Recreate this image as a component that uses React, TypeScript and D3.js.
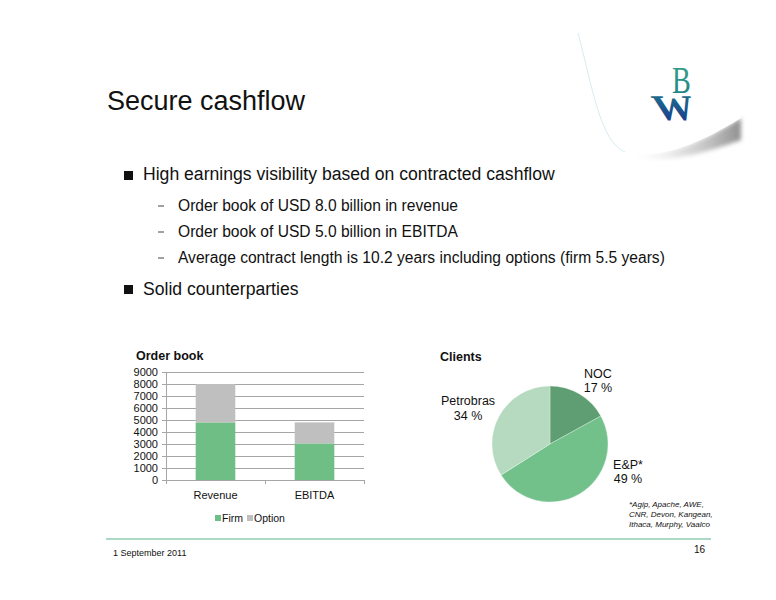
import React from "react";
import * as d3 from "d3";

// ---------- data ----------
const categories = ["Revenue", "EBITDA"];
const firmValues = [4800, 3050];
const optionValues = [3200, 1750];
const seriesNames = ["Firm", "Option"];
const yTickValues = [0, 1000, 2000, 3000, 4000, 5000, 6000, 7000, 8000, 9000];

const clientNames = ["NOC", "E&P*", "Petrobras"];
const clientShares = [17, 49, 34];

const titleText = "Secure cashflow";
const bulletMain = ["High earnings visibility based on contracted cashflow", "Solid counterparties"];
const bulletSub = [
  "Order book of USD 8.0 billion in revenue",
  "Order book of USD 5.0 billion in EBITDA",
  "Average contract length is 10.2 years including options (firm 5.5 years)",
];
const footnoteLines = ["*Agip, Apache, AWE,", "CNR, Devon, Kangean,", "Ithaca, Murphy, Vaalco"];
const footerDate = "1 September  2011";
const pageNumber = "16";

// ---------- styles ----------
const FONT = "'Liberation Sans', Arial, Helvetica, sans-serif";
const GREEN = "#6fbe85";
const GREY = "#bfbfbf";
const PIE_COLORS = ["#5f9e72", "#72c08a", "#b6dabf"];
// label placement (degrees clockwise from top, radius) for each slice
const PIE_LABEL_POLAR = [
  [38.9, 76.4],
  [112.3, 84.3],
  [291.3, 88],
];

export default function App() {
  // Bar chart scales
  const x = d3
    .scaleBand<string>()
    .domain(categories)
    .range([166, 364])
    .paddingInner(0.6)
    .paddingOuter(0.3);
  const y = d3.scaleLinear().domain([0, 9000]).range([480, 372]);

  const stacked = categories.map((c, i) => ({ cat: c, firm: firmValues[i], option: optionValues[i] }));
  const stack = d3.stack<any>().keys(["firm", "option"])(stacked);
  const seriesColors = [GREEN, GREY];

  // pie
  const cx = 550;
  const cy = 444;
  const r = 58;
  const pie = d3
    .pie<number>()
    .sort(null)
    .startAngle(0)
    .endAngle(Math.PI * 2)(clientShares);
  const arc = d3.arc<d3.PieArcDatum<number>>().innerRadius(0).outerRadius(r);

  const step = x.step();
  const boundaries = [166, 166 + step * 1, 364];

  return (
    <svg
      width={776}
      height={600}
      style={{ position: "absolute", left: 0, top: 0, background: "#fff" }}
      fontFamily={FONT}
    >
      <defs>
        <linearGradient id="shadowGrad" x1="0" y1="0" x2="1" y2="0">
          <stop offset="0" stopColor="#ffffff" stopOpacity="0" />
          <stop offset="0.5" stopColor="#c8c8c8" stopOpacity="0.6" />
          <stop offset="1" stopColor="#8a8a8a" stopOpacity="0.95" />
        </linearGradient>
        <linearGradient id="logoB" x1="0" y1="0" x2="0" y2="1">
          <stop offset="0" stopColor="#3aa58a" />
          <stop offset="1" stopColor="#1e7d86" />
        </linearGradient>
        <linearGradient id="logoW" x1="0" y1="0" x2="0" y2="1">
          <stop offset="0" stopColor="#1f7a8c" />
          <stop offset="1" stopColor="#17348f" />
        </linearGradient>
        <filter id="blur2" x="-10%" y="-50%" width="120%" height="200%">
          <feGaussianBlur stdDeviation="2" />
        </filter>
      </defs>

      {/* page curl */}
      <path
        d="M 625 152 C 665 162, 712 136, 741 118 L 741 140 C 712 150, 668 166, 625 156 Z"
        fill="url(#shadowGrad)"
        filter="url(#blur2)"
      />
      <path
        d="M 578 33 C 592 85, 600 142, 625 152 C 665 162, 712 136, 741 118 L 741 0 L 578 0 Z"
        fill="#ffffff"
      />
      <path
        d="M 578 33 C 592 85, 600 142, 625 152"
        fill="none"
        stroke="#cfe6ec"
        strokeWidth={0.8}
      />

      {/* logo */}
      <text
        x={0}
        y={0}
        transform="translate(672,93) scale(0.74,1)"
        fontFamily="'Liberation Serif', 'DejaVu Serif', serif"
        fontSize={38}
        fill="url(#logoB)"
      >
        B
      </text>
      <text
        x={0}
        y={0}
        transform="translate(656,120) skewX(14) scale(1.08,0.95)"
        fontFamily="'Liberation Serif', 'DejaVu Serif', serif"
        fontWeight="bold"
        fontSize={38}
        fill="url(#logoW)"
      >
        W
      </text>

      {/* title */}
      <text x={107} y={110} fontSize={27} fill="#111">
        {titleText}
      </text>

      {/* bullets */}
      <rect x={124} y={171} width={9} height={9} fill="#111" />
      <text x={143} y={180} fontSize={17.6} fill="#111">
        {bulletMain[0]}
      </text>
      {bulletSub.map((t, i) => (
        <g key={t}>
          <line x1={158} x2={164} y1={206 + i * 26} y2={206 + i * 26} stroke="#444" strokeWidth={1} />
          <text x={178} y={211 + i * 26} fontSize={15.6} fill="#111">
            {t}
          </text>
        </g>
      ))}
      <rect x={124} y={285} width={9} height={9} fill="#111" />
      <text x={143} y={295} fontSize={17.6} fill="#111">
        {bulletMain[1]}
      </text>

      {/* ---------- bar chart ---------- */}
      <text x={136} y={360} fontSize={12.5} fontWeight="bold" fill="#111">
        Order book
      </text>
      {yTickValues.map((v) => (
        <g key={v}>
          <line x1={162} x2={364} y1={Math.round(y(v)) + 0.5} y2={Math.round(y(v)) + 0.5} stroke="#a6a6a6" strokeWidth={1} />
          <text x={158} y={y(v) + 4} fontSize={11} textAnchor="end" fill="#111">
            {v}
          </text>
        </g>
      ))}
      <line x1={166.5} x2={166.5} y1={y(9000)} y2={y(0) + 0.5} stroke="#a6a6a6" />
      {boundaries.map((b, i) => (
        <line key={i} x1={Math.round(b) + 0.5} x2={Math.round(b) + 0.5} y1={y(0)} y2={y(0) + 4} stroke="#a6a6a6" />
      ))}
      {stack.map((s, si) =>
        s.map((d, i) => (
          <rect
            key={`${si}-${i}`}
            x={x(categories[i])!}
            width={x.bandwidth()}
            y={y(d[1])}
            height={y(d[0]) - y(d[1])}
            fill={seriesColors[si]}
          />
        ))
      )}
      {categories.map((c) => (
        <text key={c} x={x(c)! + x.bandwidth() / 2} y={499} fontSize={11} textAnchor="middle" fill="#111">
          {c}
        </text>
      ))}
      {/* legend */}
      <rect x={215} y={515} width={6} height={6} fill={GREEN} />
      <text x={222} y={522} fontSize={10.5} fill="#111">
        {seriesNames[0]}
      </text>
      <rect x={247} y={515} width={6} height={6} fill={GREY} />
      <text x={254} y={522} fontSize={10.5} fill="#111">
        {seriesNames[1]}
      </text>

      {/* ---------- pie chart ---------- */}
      <text x={440} y={361} fontSize={12.5} fontWeight="bold" fill="#111">
        Clients
      </text>
      <g transform={`translate(${cx},${cy})`}>
        {pie.map((p, i) => (
          <path key={i} d={arc(p)!} fill={PIE_COLORS[i]} stroke="#ffffff" strokeWidth={0.3} />
        ))}
      </g>
      {pie.map((p, i) => {
        const [deg, rad] = PIE_LABEL_POLAR[i];
        const a = (deg * Math.PI) / 180;
        const lx = cx + rad * Math.sin(a);
        const ly = cy - rad * Math.cos(a);
        return (
          <g key={i}>
            <text x={lx} y={ly - 7} fontSize={12.5} textAnchor="middle" fill="#111">
              {clientNames[i]}
            </text>
            <text x={lx} y={ly + 7.5} fontSize={12.5} textAnchor="middle" fill="#111">
              {`${clientShares[i]} %`}
            </text>
          </g>
        );
      })}
      {footnoteLines.map((t, i) => (
        <text key={t} x={629} y={507 + i * 10} fontSize={8} fontStyle="italic" fill="#111">
          {t}
        </text>
      ))}

      {/* footer */}
      <line x1={106} x2={711} y1={539} y2={539} stroke="#8fceb0" strokeWidth={1.6} />
      <text x={113} y={556} fontSize={9} fill="#111">
        {footerDate}
      </text>
      <text x={705} y={553} fontSize={10} textAnchor="end" fill="#111">
        {pageNumber}
      </text>
    </svg>
  );
}
